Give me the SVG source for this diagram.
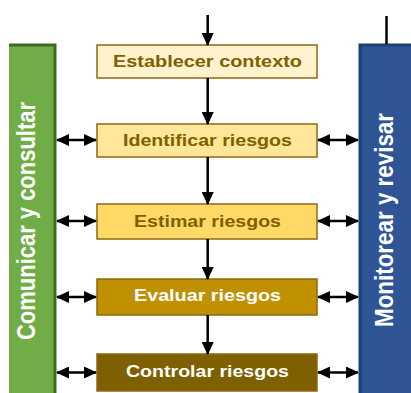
<svg xmlns="http://www.w3.org/2000/svg" width="411" height="393" viewBox="0 0 411 393">
<style>
.box{stroke:#8c6a0f;stroke-width:1.5}
.t{font-family:"Liberation Sans",Arial,sans-serif;font-weight:bold;font-size:17px;text-anchor:middle}
.dk{fill:#7f6000}
.wh{fill:#ffffff}
.vt{font-family:"Liberation Sans",Arial,sans-serif;font-weight:bold;fill:#ffffff;text-anchor:middle}
.ln{stroke:#000;stroke-width:2.5;fill:none}
</style>
<defs>
<marker id="ah" viewBox="0 0 13 12" refX="12" refY="6" markerWidth="13" markerHeight="12" markerUnits="userSpaceOnUse" orient="auto-start-reverse">
<path d="M0,0 L13,6 L0,12 z" fill="#000"/>
</marker>
</defs>
<rect width="411" height="393" fill="#ffffff"/>

<g id="comunicar">
<rect x="9" y="44" width="47" height="349" fill="#70ad47"/>
<path d="M9,45 H55 V393" fill="none" stroke="#3e6b24" stroke-width="3"/>
<text class="vt" font-size="26" transform="translate(34.5,221) rotate(-90)" textLength="238" lengthAdjust="spacingAndGlyphs">Comunicar y consultar</text>
</g>

<g id="monitorear">
<rect x="359" y="44" width="52" height="349" fill="#2f5597"/>
<path d="M360,393 V45 H411" fill="none" stroke="#203f73" stroke-width="3"/>
<text class="vt" font-size="26" transform="translate(392.5,220) rotate(-90)" textLength="214" lengthAdjust="spacingAndGlyphs">Monitorear y revisar</text>
</g>

<g id="establecer">
<rect class="box" x="97" y="45" width="220" height="33" fill="#fff2cc"/>
<text class="t dk" x="207.5" y="67" textLength="189" lengthAdjust="spacingAndGlyphs">Establecer contexto</text>
</g>
<g id="identificar">
<rect class="box" x="97" y="124" width="220" height="33" fill="#ffe699"/>
<text class="t dk" x="207.5" y="146" textLength="169" lengthAdjust="spacingAndGlyphs">Identificar riesgos</text>
</g>
<g id="estimar">
<rect class="box" x="97" y="204" width="220" height="35" fill="#ffd966"/>
<text class="t dk" x="207.5" y="227" textLength="147" lengthAdjust="spacingAndGlyphs">Estimar riesgos</text>
</g>
<g id="evaluar">
<rect class="box" x="97" y="279" width="220" height="36" fill="#bf9000"/>
<text class="t wh" x="207.5" y="301" textLength="147" lengthAdjust="spacingAndGlyphs">Evaluar riesgos</text>
</g>
<g id="controlar">
<rect class="box" x="97" y="354" width="220" height="37" fill="#7f6000"/>
<text class="t wh" x="207.5" y="376.5" textLength="163" lengthAdjust="spacingAndGlyphs">Controlar riesgos</text>
</g>

<g id="connectors">
<line class="ln" x1="207.7" y1="15" x2="207.7" y2="45" marker-end="url(#ah)"/>
<line class="ln" x1="207.7" y1="78" x2="207.7" y2="124" marker-end="url(#ah)"/>
<line class="ln" x1="207.7" y1="157" x2="207.7" y2="204" marker-end="url(#ah)"/>
<line class="ln" x1="207.7" y1="239" x2="207.7" y2="279" marker-end="url(#ah)"/>
<line class="ln" x1="207.7" y1="315" x2="207.7" y2="354" marker-end="url(#ah)"/>
<line class="ln" x1="386.5" y1="16" x2="386.5" y2="44"/>
<line class="ln" x1="57" y1="140" x2="96" y2="140" marker-start="url(#ah)" marker-end="url(#ah)"/>
<line class="ln" x1="57" y1="221" x2="96" y2="221" marker-start="url(#ah)" marker-end="url(#ah)"/>
<line class="ln" x1="57" y1="297" x2="96" y2="297" marker-start="url(#ah)" marker-end="url(#ah)"/>
<line class="ln" x1="57" y1="372.5" x2="96" y2="372.5" marker-start="url(#ah)" marker-end="url(#ah)"/>
<line class="ln" x1="318" y1="140" x2="358" y2="140" marker-start="url(#ah)" marker-end="url(#ah)"/>
<line class="ln" x1="318" y1="221" x2="358" y2="221" marker-start="url(#ah)" marker-end="url(#ah)"/>
<line class="ln" x1="318" y1="297" x2="358" y2="297" marker-start="url(#ah)" marker-end="url(#ah)"/>
<line class="ln" x1="318" y1="372.5" x2="358" y2="372.5" marker-start="url(#ah)" marker-end="url(#ah)"/>
</g>
</svg>
